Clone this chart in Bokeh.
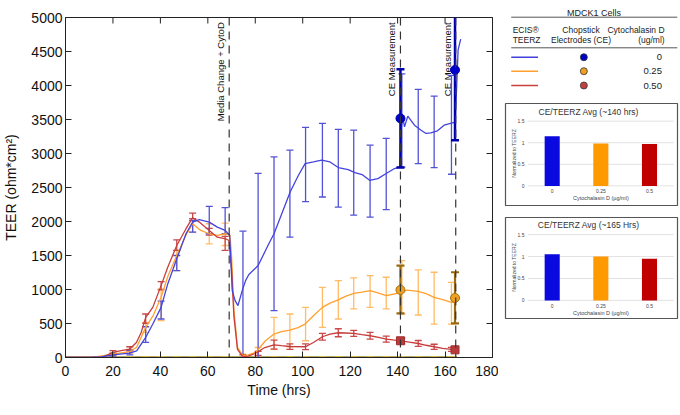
from math import pi

from bokeh.core.properties import value
from bokeh.embed import file_html
from bokeh.layouts import column, row
from bokeh.models import Range1d, Span
from bokeh.plotting import figure
from bokeh.resources import INLINE

FONT = "Liberation Sans"

# ---- data ----
bar_t = [20, 27.1, 33.8, 40.3, 46.9, 53.6, 60.6, 67.3, 74.8, 81.2, 87.9,
         94.6, 101.2, 108.3, 115.0, 121.5, 128.4, 135.2, 141.8, 148.7, 155.4, 162.7]

blue_lo = [20, 40, 221, 566, 1279, 1844, 1820, 1820, 0, 0, 689,
           1770, 2292, 2360, 2212, 2094, 2065, 2174, 2800, 2852, 2793, 2695]
blue_hi = [60, 110, 452, 830, 1500, 2016, 2222, 2203, 1858, 2709, 2950,
           3049, 3383, 3442, 3354, 3343, 3122, 3221, 4170, 3944, 3845, 4150]

orange_lo = [30, 60, 369, 541, 1279, 1844, 1672, 1647, 0, 0, 124,
             158, 246, 443, 566, 714, 737, 714, 640, 625, 492, 492]
orange_hi = [70, 120, 516, 1008, 1574, 2006, 1967, 1976, 50, 147, 590,
             640, 737, 1032, 1131, 1171, 1205, 1180, 1426, 1289, 1254, 1106]

red_lo = [40, 99, 502, 994, 1574, 2041, 1800, 1574, 0, 30, 124,
          120, 115, 256, 305, 310, 270, 225, 200, 165, 120, 90]
red_hi = [100, 158, 640, 1117, 1731, 2124, 1900, 1780, 40, 90, 256,
          200, 200, 354, 423, 400, 370, 315, 290, 250, 195, 150]

blue_t = [0, 10, 15, 20, 27, 30, 33.8, 36.8, 40.3, 43.1, 46.9, 50.8, 53.6, 56.4,
          60.6, 64, 67.3, 69.2, 70.3, 71.5, 72.7, 74.5, 75.9, 77.3, 81.2, 85.7,
          87.9, 91, 94.7, 98.2, 101, 104.5, 108, 111.5, 115, 119.2, 122, 125,
          128.2, 131.7, 135.2, 138.7, 141.0, 141.5, 142.2, 142.9, 144.3, 147.1,
          149.9, 152, 154, 156.8, 159.6, 163.1, 164.3, 165.5, 166.6]
blue_teer = [0, 0, 10, 40, 65, 99, 295, 492, 737, 1082, 1451, 1820, 1991, 2026,
             1991, 1917, 1869, 1795, 983, 836, 762, 983, 1131, 1220, 1352, 1672,
             1820, 2100, 2434, 2680, 2852, 2876, 2901, 2876, 2793, 2763, 2719, 2690,
             2606, 2631, 2705, 2779, 2802, 3373, 3540, 3392, 3550, 3417,
             3343, 3295, 3304, 3333, 3417, 3451, 3460, 4524, 4681]

orange_t = [0, 12, 20, 27, 30, 33.8, 37, 40.3, 43.1, 46.9, 50.8, 53.6, 57, 60.6,
            64, 67.3, 69.3, 70, 71, 72.5, 74.8, 77, 80.1, 84.3, 87.9, 91, 94.6, 98,
            101, 104.5, 108.3, 111.5, 115, 118, 121.5, 125, 128.4, 131.7, 135.2,
            138, 141.2, 144, 148.7, 152, 155.4, 159, 162.7, 164.3]
orange_teer = [0, 5, 50, 85, 150, 443, 620, 885, 1190, 1500, 1800, 1967, 1869, 1820,
               1795, 1820, 1800, 1500, 700, 150, 25, 40, 74, 246, 345, 380, 404, 440,
               492, 615, 737, 800, 847, 900, 944, 960, 983, 950, 910,
               930, 959, 990, 973, 940, 885, 850, 811, 820]

red_t = [0, 12, 15.9, 20.1, 22.9, 27.1, 29.9, 31.9, 33.8, 36.8, 40.3, 43.1, 46.9,
         50.8, 53.6, 56.4, 60.6, 64, 67.5, 68.9, 70, 71, 72.5, 74.8, 77, 80, 84,
         87.9, 91, 94.6, 101.2, 104.5, 108.3, 111.5, 115, 118, 121.5, 125, 128.4,
         132, 135.2, 138, 141.2, 145, 148.7, 152, 155.4, 159, 162.7, 164.3]
red_teer = [0, 5, 10, 74, 99, 124, 221, 369, 590, 737, 1057, 1327, 1647,
            1894, 2056, 1991, 1869, 1770, 1746, 1721, 1300, 600, 120, 10, 20, 59, 147,
            187, 175, 162, 158, 221, 305, 345, 364, 360, 354, 335, 320,
            295, 271, 258, 246, 225, 206, 180, 158, 135, 118, 113]

zero_t = [0, 165]
zero_teer = [0, 0]

ce_t = [141.2, 164.2]
ce_blue = [3516, 4229]
ce_blue_lo = [2793, 3196]
ce_blue_hi = [4239, 5300]
ce_orange = [994, 876]
ce_orange_lo = [649, 502]
ce_orange_hi = [1352, 1254]
ce_red = [246, 113]
ce_red_lo = [215, 95]
ce_red_hi = [280, 130]

event_t = [69, 141.2, 164.5]
event_labels = ["Media Change + CytoD", "CE Measurement", "CE Measurement"]

doses = ["0", "0.25", "0.5"]
ratio_140 = [1.15, 0.98, 0.97]
ratio_165 = [1.05, 1.00, 0.95]
ratio_ticks = [0, 0.5, 1, 1.5]
ratio_tick_labels = ["0", "0.5", "1", "1.5"]
bar_colors = ["#0a0ae0", "#ff9900", "#c00000"]

legend_doses = ["0", "0.25", "0.50"]
legend_line_colors = ["#4040dd", "#ffa030", "#cc4040"]
legend_dot_colors = ["#0000cc", "#f0a020", "#c04040"]

# ---- main chart ----
p = figure(width=498, height=410, x_range=Range1d(0, 180), y_range=Range1d(0, 5000),
           output_backend="svg", toolbar_location=None,
           min_border_left=62, min_border_right=6, min_border_top=17, min_border_bottom=53)
p.xgrid.visible = False
p.ygrid.visible = False
p.outline_line_color = "#222222"

xt = list(range(0, 181, 20))
yt = list(range(0, 5001, 500))
p.xaxis.ticker = xt
p.yaxis.ticker = yt
p.xaxis.axis_label = "Time (hrs)"
p.yaxis.axis_label = "TEER (ohm*cm²)"
for ax in p.xaxis + p.yaxis:
    ax.major_tick_in = 6
    ax.major_tick_out = 0
    ax.minor_tick_line_color = None
    ax.axis_line_color = "#222222"
    ax.major_tick_line_color = "#222222"
    ax.major_label_text_font = FONT
    ax.major_label_text_font_size = "14px"
    ax.major_label_text_color = "#111111"
    ax.axis_label_text_font = FONT
    ax.axis_label_text_font_size = "14px"
    ax.axis_label_text_font_style = "normal"
    ax.axis_label_text_color = "#111111"
p.yaxis.major_label_standoff = 3
p.yaxis.axis_label_standoff = 9
p.xaxis.major_label_standoff = 8
p.xaxis.axis_label_standoff = 3

# inward ticks on the top and right edges (half of each dash is clipped by the frame)
p.scatter(xt, [5000] * len(xt), marker="dash", size=12, angle=pi / 2,
          line_color="#222222", line_width=1)
p.scatter([180] * len(yt), yt, marker="dash", size=12, line_color="#222222", line_width=1)


def errbars(t, lo, hi, color, width, cap):
    p.segment(x0=t, y0=lo, x1=t, y1=hi, line_color=color, line_width=width)
    p.scatter(t, lo, marker="dash", size=cap, line_color=color, line_width=width)
    p.scatter(t, hi, marker="dash", size=cap, line_color=color, line_width=width)


# event markers
for t in event_t:
    p.add_layout(Span(location=t, dimension="height", line_color="#333333",
                      line_dash="8 6", line_width=1.2))
p.text(x=event_t, y=[4930] * 3, text=event_labels, angle=pi / 2, x_offset=-3,
       text_align="right", text_baseline="bottom", text_font=value(FONT),
       text_font_size="9.5px", text_color="#111111")

# ECIS/TEERZ series
p.line(zero_t, zero_teer, line_color="#9a8a30", line_width=2.5)
p.scatter(bar_t, [0] * len(bar_t), marker="dash", size=7, line_color="#f2d020", line_width=2)

errbars(bar_t, orange_lo, orange_hi, "#ffbb66", 1.3, 7)
errbars(bar_t, red_lo, red_hi, "#c84848", 1.3, 7)
errbars(bar_t, blue_lo, blue_hi, "#5252d6", 1.3, 7)
p.line(orange_t, orange_teer, line_color="#ffa030", line_width=1.3)
p.line(red_t, red_teer, line_color="#c83c3c", line_width=1.3)
p.line(blue_t, blue_teer, line_color="#4444dd", line_width=1.3)

# chopstick electrode measurements
errbars(ce_t, ce_orange_lo, ce_orange_hi, "#9a6a10", 2.2, 8)
errbars(ce_t, ce_red_lo, ce_red_hi, "#a03030", 2.2, 8)
errbars(ce_t, ce_blue_lo, ce_blue_hi, "#0000aa", 2.5, 8)
p.scatter(ce_t, ce_orange, size=9, fill_color="#f0a020", line_color="#a07010")
p.scatter(ce_t, ce_red, marker="square", size=8, fill_color="#b83a3a", line_color="#a03030")
p.scatter(ce_t, ce_blue, size=9, fill_color="#0000cc", line_color="#0000aa")

# ---- legend table (ranges match the canvas pixels) ----
leg = figure(width=182, height=102, x_range=Range1d(1, 181), y_range=Range1d(101, 1),
             output_backend="svg", toolbar_location=None,
             x_axis_location=None, y_axis_location=None,
             min_border_left=1, min_border_right=1, min_border_top=1, min_border_bottom=1)
leg.xgrid.visible = False
leg.ygrid.visible = False
leg.outline_line_color = None
leg.segment(x0=[7, 7], y0=[16.7, 47.3], x1=[181, 181], y1=[16.7, 47.3],
            line_color="#555555", line_width=1)
leg.text(x=[93.7], y=[12.3], text=["MDCK1 Cells"], text_align="center",
         text_baseline="middle", text_font=value(FONT), text_font_size="9px",
         text_color="#222222")
leg.text(x=[8.5, 8.5], y=[29.3, 39.3], text=["ECIS®", "TEERZ"], text_align="left",
         text_baseline="middle", text_font=value(FONT), text_font_size="8.5px",
         text_color="#222222")
leg.text(x=[80, 80], y=[29.3, 39.3], text=["Chopstick", "Electrodes (CE)"],
         text_align="center", text_baseline="middle", text_font=value(FONT),
         text_font_size="8.5px", text_color="#222222")
leg.text(x=[167.5, 167.5], y=[29.3, 39.3], text=["Cytochalasin D", "(ug/ml)"],
         text_align="right", text_baseline="middle", text_font=value(FONT),
         text_font_size="8.5px", text_color="#222222")
rows_y = [56.7, 70.7, 85]
leg.segment(x0=[7] * 3, y0=rows_y, x1=[35] * 3, y1=rows_y,
            line_color=legend_line_colors, line_width=1.6)
leg.scatter(x=[83] * 3, y=rows_y, size=7, fill_color=legend_dot_colors,
            line_color="#333333", line_width=0.8)
leg.text(x=[164.7] * 3, y=rows_y, text=legend_doses, text_align="right",
         text_baseline="middle", text_font=value(FONT), text_font_size="9.5px",
         text_color="#222222")


# ---- inset bar charts: the frame outline is the box, labels live inside it ----
def inset(title, ratios, height, top_border, y_lo, y_hi, title_y, xlab_y, axlab_y):
    q = figure(width=182, height=height, x_range=Range1d(-0.96, 2.576),
               y_range=Range1d(y_lo, y_hi), output_backend="svg", toolbar_location=None,
               x_axis_location=None, y_axis_location=None,
               min_border_left=7, min_border_right=3, min_border_top=top_border,
               min_border_bottom=1)
    q.xgrid.visible = False
    q.ygrid.visible = False
    q.outline_line_color = "#555555"
    q.outline_line_width = 1.2
    xs = list(range(len(doses)))
    q.segment(x0=[-0.5] * len(ratio_ticks), y0=ratio_ticks, x1=[2.5] * len(ratio_ticks),
              y1=ratio_ticks, line_color="#e2e2e2", line_width=1)
    q.vbar(x=xs, top=ratios, width=0.31, fill_color=bar_colors, line_color=None)
    q.text(x=[0.75], y=[title_y], text=[title], text_align="center", text_baseline="middle",
           text_font=value(FONT), text_font_size="8.5px", text_color="#333333")
    q.text(x=[-0.57] * len(ratio_ticks), y=ratio_ticks, text=ratio_tick_labels,
           text_align="right", text_baseline="middle", text_font=value(FONT),
           text_font_size="5px", text_color="#444444")
    q.text(x=xs, y=[xlab_y] * len(xs), text=doses, text_align="center",
           text_baseline="middle", text_font=value(FONT), text_font_size="5px",
           text_color="#444444")
    q.text(x=[1], y=[axlab_y], text=["Cytochalasin D (µg/ml)"], text_align="center",
           text_baseline="middle", text_font=value(FONT), text_font_size="5.5px",
           text_color="#444444")
    q.text(x=[-0.775], y=[0.75], text=["Normalized to TEERZ"], angle=pi / 2,
           text_align="center", text_baseline="middle", text_font=value(FONT),
           text_font_size="5px", text_color="#444444")
    return q


in1 = inset("CE/TEERZ Avg (~140 hrs)", ratio_140, 104, 1, -0.4545, 1.909, 1.711, -0.13, -0.28)
in2 = inset("CE/TEERZ Avg (~165 Hrs)", ratio_165, 113, 11, -0.413, 1.891, 1.71, -0.12, -0.284)

layout = row(p, column(leg, in1, in2))

open("out.html", "w").write(file_html(layout, INLINE))
